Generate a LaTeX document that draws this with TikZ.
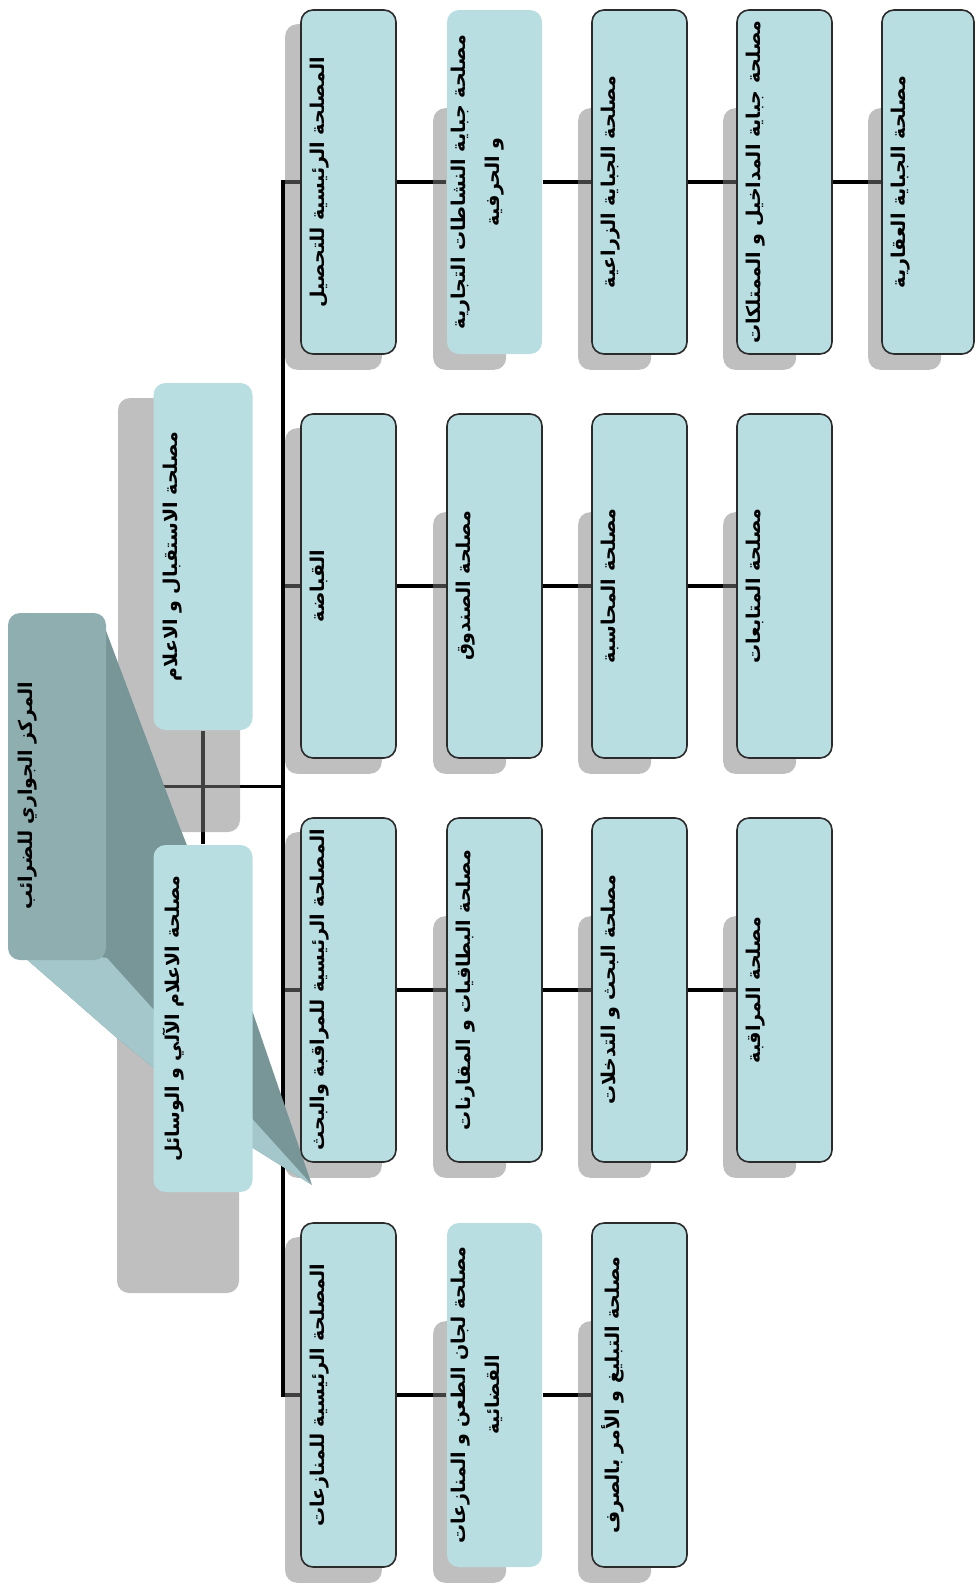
\documentclass[tikz,border=0pt]{standalone}
\usepackage{fontspec}
\newfontfamily\arabicfont[Script=Arabic]{DejaVu Sans}
\TeXXeTstate=1
\pgfdeclarelayer{lines}
\pgfdeclarelayer{shadows}
\pgfdeclarelayer{wedge}
\pgfsetlayers{lines,shadows,wedge,main}
\definecolor{boxfill}{HTML}{B8DEE2}
\definecolor{rootfill}{HTML}{8FAEB0}
\definecolor{wedgedark}{HTML}{789698}
\definecolor{wedgelight}{HTML}{A3C7CA}
\definecolor{edgecol}{HTML}{2B2B2B}
\begin{document}
\begin{tikzpicture}[x=1pt,y=-1pt,
  box/.style={rectangle, rounded corners=12pt, fill=boxfill, draw=edgecol, line width=1.6pt, minimum width=95pt, minimum height=344pt, inner sep=0pt},
  plainbox/.style={box, draw=none},
  shadowbox/.style={fill=black!50, fill opacity=0.5, rounded corners=12pt},
  conn/.style={draw=black, line width=3.5pt},
  lbl/.style={rotate=90, anchor=north, inner sep=0pt, align=center, font=\arabicfont\bfseries\fontsize{19}{34}\selectfont},
]
\useasboundingbox (0,0) rectangle (976,1585);

% ---------- column boxes ----------
\node[box] (b11) at (348.5,182) {};
\node[plainbox] (b12) at (494.5,182) {};
\node[box] (b13) at (639.5,182) {};
\node[box] (b14) at (784.5,182) {};
\node[box, minimum width=92pt] (b15) at (928,182) {};

\node[box] (b21) at (348.5,586) {};
\node[box] (b22) at (494.5,586) {};
\node[box] (b23) at (639.5,586) {};
\node[box] (b24) at (784.5,586) {};

\node[box] (b31) at (348.5,990) {};
\node[box] (b32) at (494.5,990) {};
\node[box] (b33) at (639.5,990) {};
\node[box] (b34) at (784.5,990) {};

\node[box] (b41) at (348.5,1395) {};
\node[plainbox] (b42) at (494.5,1395) {};
\node[box] (b43) at (639.5,1395) {};

% ---------- left side ----------
\node[plainbox, fill=rootfill, minimum width=98pt, minimum height=347pt] (root) at (57,786.5) {};
\node[plainbox, minimum width=99pt, minimum height=347pt] (A) at (203,556.5) {};
\node[plainbox, minimum width=99pt, minimum height=347pt] (B) at (203,1018.5) {};

\coordinate (spine) at (283,0);

% ---------- labels ----------
\node[lbl] (t11) at (310,182) {\beginR المصلحة الرئيسية للتحصيل\endR};
\node[lbl] (t12) at (451,182) {\beginR مصلحة جباية النشاطات التجارية\endR\\\beginR و الحرفية\endR};
\node[lbl] (t13) at (601,182) {\beginR مصلحة الجباية الزراعية\endR};
\node[lbl] (t14) at (746,182) {\beginR مصلحة جباية المداخيل و الممتلكات\endR};
\node[lbl] (t15) at (891,182) {\beginR مصلحة الجباية العقارية\endR};

\node[lbl] (t21) at (310,586) {\beginR القباضة\endR};
\node[lbl] (t22) at (456,586) {\beginR مصلحة الصندوق\endR};
\node[lbl] (t23) at (601,586) {\beginR مصلحة المحاسبة\endR};
\node[lbl] (t24) at (746,586) {\beginR مصلحة المتابعات\endR};

\node[lbl] (t31) at (310,990) {\beginR المصلحة الرئيسية للمراقبة والبحث\endR};
\node[lbl] (t32) at (456,990) {\beginR مصلحة البطاقيات و المقارنات\endR};
\node[lbl] (t33) at (601,990) {\beginR مصلحة البحث و التدخلات\endR};
\node[lbl] (t34) at (746,990) {\beginR مصلحة المراقبة\endR};

\node[lbl] (t41) at (310,1395) {\beginR المصلحة الرئيسية للمنازعات\endR};
\node[lbl] (t42) at (451,1395) {\beginR مصلحة لجان الطعن و المنازعات\endR\\\beginR القضائية\endR};
\node[lbl] (t43) at (601,1395) {\beginR مصلحة التبليغ و الأمر بالصرف\endR};

\node[lbl] (troot) at (18,796) {\beginR المركز الجواري للضرائب\endR};
\node[lbl] (tA) at (163,556.5) {\beginR مصلحة الاستقبال و الاعلام\endR};
\node[lbl] (tB) at (163,1018.5) {\beginR مصلحة الاعلام الآلي و الوسائل\endR};

% ---------- connectors ----------
\begin{pgfonlayer}{lines}
\draw[conn] (b11.west) -- (b11.west -| spine) -- (b41.west -| spine) -- (b41.west);
\draw[conn] (b21.west -| spine) -- (b21.west);
\draw[conn] (b31.west -| spine) -- (b31.west);
\draw[conn] (b11.east) -- (b12.west);
\draw[conn] (b12.east) -- (b13.west);
\draw[conn] (b13.east) -- (b14.west);
\draw[conn] (b14.east) -- (b15.west);
\draw[conn] (b21.east) -- (b22.west);
\draw[conn] (b22.east) -- (b23.west);
\draw[conn] (b23.east) -- (b24.west);
\draw[conn] (b31.east) -- (b32.west);
\draw[conn] (b32.east) -- (b33.west);
\draw[conn] (b33.east) -- (b34.west);
\draw[conn] (b41.east) -- (b42.west);
\draw[conn] (b42.east) -- (b43.west);
\draw[conn] (root.east) -- (root.east -| spine);
\draw[conn] (A.south) -- (B.north);
\end{pgfonlayer}

% ---------- shadows ----------
\begin{pgfonlayer}{shadows}
\foreach \n in {b11,b21,b31,b41}
  \path[shadowbox] ([shift={(-15,15)}]\n.north west) rectangle ([shift={(-15,15)}]\n.south east);
\foreach \n in {b12,b13,b14,b15,b22,b23,b24,b32,b33,b34,b42,b43}
  \path[shadowbox] ([shift={(-13,99)}]\n.north west) rectangle ([shift={(60,15)}]\n.south west);
\path[shadowbox] (118,398) rectangle (240,832);
\path[shadowbox] (117,848) rectangle (239,1293);
\end{pgfonlayer}

% ---------- callout wedge ----------
\begin{pgfonlayer}{wedge}
\fill[wedgedark] (105,628) -- (177,820) -- (253,1013) -- (312,1185) -- (253,1148) -- (117,1038) -- (8,943) -- cycle;
\fill[wedgelight] (8,943) -- (117,1038) -- (253,1148) -- (312,1185) -- (107,958) -- cycle;
\end{pgfonlayer}
\end{tikzpicture}
\end{document}
